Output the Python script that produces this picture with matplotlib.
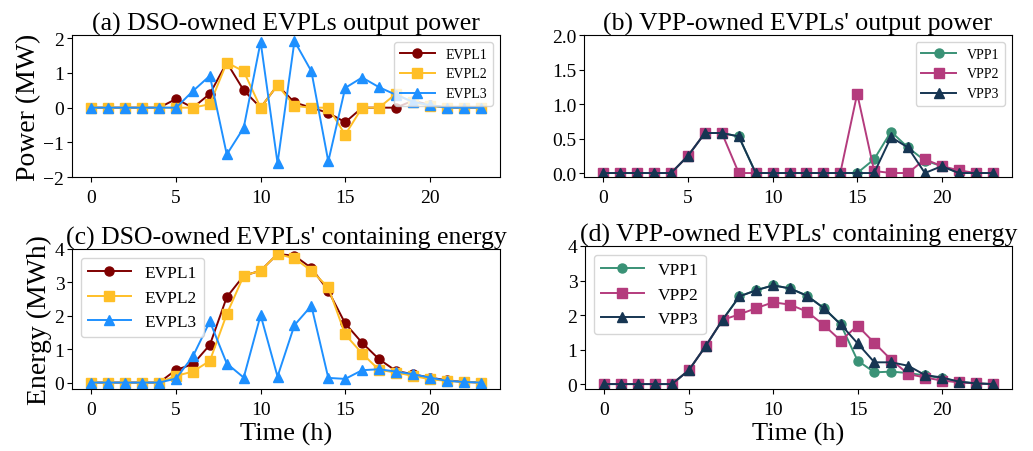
import numpy as np
import matplotlib as mpl
mpl.use('Agg')
import matplotlib.pyplot as plt

plt.rcParams['font.family'] = ['Liberation Serif', 'DejaVu Serif']
plt.rcParams['mathtext.fontset'] = 'stix'

hours = np.arange(24)

# DSO-owned parking lots: output power (MW)
evpl1_p = [0, 0, 0, 0, 0, 0.25, 0, 0.4, 1.3, 0.5, 0, 0.65, 0.15, 0, -0.15, -0.42,
           0, 0, 0, 0.2, 0.08, 0, 0, 0]
evpl2_p = [0, 0, 0, 0, 0, 0, 0, 0.1, 1.3, 1.05, 0, 0.65, 0.05, 0, 0, -0.78,
           0, 0, 0.4, 0.15, 0.05, 0, 0, 0]
evpl3_p = [0, 0, 0, 0, 0, 0, 0.48, 0.92, -1.35, -0.58, 1.9, -1.6, 1.92, 1.05, -1.55, 0.57,
           0.87, 0.59, 0.37, 0.17, 0.07, 0, 0, 0]

# VPP-owned parking lots: output power (MW)
vpp1_p = [0, 0, 0, 0, 0, 0.25, 0.58, 0.58, 0.53, 0, 0, 0, 0, 0, 0, 0,
          0.2, 0.6, 0.37, 0.18, 0.1, 0, 0, 0]
vpp2_p = [0, 0, 0, 0, 0, 0.25, 0.58, 0.58, 0, 0, 0, 0, 0, 0, 0, 1.15,
          0.03, 0, 0, 0.2, 0.1, 0.04, 0, 0]
vpp3_p = [0, 0, 0, 0, 0, 0.25, 0.58, 0.58, 0.53, 0, 0, 0, 0, 0, 0, 0,
          0, 0.52, 0.37, 0, 0.1, 0, 0, 0]

# DSO-owned parking lots: stored energy (MWh)
evpl1_e = [0, 0, 0, 0, 0, 0.38, 0.55, 1.13, 2.56, 3.2, 3.35, 3.85, 3.8, 3.43, 2.75, 1.77,
           1.19, 0.7, 0.35, 0.25, 0.15, 0.07, 0.02, 0]
evpl2_e = [0, 0, 0, 0, 0, 0.2, 0.33, 0.65, 2.05, 3.2, 3.35, 3.85, 3.72, 3.35, 2.85, 1.44,
           0.87, 0.38, 0.3, 0.2, 0.1, 0.05, 0.02, 0]
evpl3_e = [0, 0, 0, 0, 0, 0.12, 0.79, 1.83, 0.57, 0.15, 2.02, 0.18, 1.72, 2.3, 0.14, 0.11,
           0.37, 0.4, 0.33, 0.25, 0.15, 0.05, 0.02, 0]

# VPP-owned parking lots: stored energy (MWh)
vpp1_e = [0, 0, 0, 0, 0, 0.4, 1.1, 1.86, 2.54, 2.72, 2.86, 2.77, 2.56, 2.2, 1.73, 0.68,
          0.34, 0.36, 0.32, 0.25, 0.17, 0.07, 0.02, 0]
vpp2_e = [0, 0, 0, 0, 0, 0.4, 1.1, 1.86, 2.02, 2.2, 2.37, 2.3, 2.1, 1.71, 1.26, 1.69,
          1.19, 0.7, 0.29, 0.19, 0.1, 0.05, 0.02, 0]
vpp3_e = [0, 0, 0, 0, 0, 0.4, 1.1, 1.86, 2.54, 2.72, 2.86, 2.77, 2.56, 2.2, 1.73, 1.18,
          0.63, 0.63, 0.53, 0.26, 0.19, 0.07, 0.02, 0]

evpl_names = ['EVPL1', 'EVPL2', 'EVPL3']
vpp_names = ['VPP1', 'VPP2', 'VPP3']
evpl_colors = ['#7f0000', '#ffbf27', '#1e90ff']
vpp_colors = ['#3a9276', '#b43b7d', '#163552']
markers = ['o', 's', '^']

fig = plt.figure(figsize=(10.33, 4.52), dpi=100)
W, H = 1033, 452


def make_ax(l, t, r, b):
    return fig.add_axes([l / W, 1 - b / H, (r - l) / W, (b - t) / H])


ax_a = make_ax(72, 36, 500, 178)
ax_b = make_ax(584, 36, 1012, 178)
ax_c = make_ax(72, 250, 500, 390)
ax_d = make_ax(585, 247, 1012, 390)

panels = [
    (ax_a, [evpl1_p, evpl2_p, evpl3_p], evpl_names, evpl_colors, '(a) DSO-owned EVPLs output power'),
    (ax_b, [vpp1_p, vpp2_p, vpp3_p], vpp_names, vpp_colors, "(b) VPP-owned EVPLs' output power"),
    (ax_c, [evpl1_e, evpl2_e, evpl3_e], evpl_names, evpl_colors, "(c) DSO-owned EVPLs' containing energy"),
    (ax_d, [vpp1_e, vpp2_e, vpp3_e], vpp_names, vpp_colors, "(d) VPP-owned EVPLs' containing energy"),
]

for ax, series, names, colors, title in panels:
    for y, name, c, m in zip(series, names, colors, markers):
        ax.plot(hours, y, marker=m, color=c, label=name, markersize=6.5, linewidth=1.4)
    ax.set_title(title, fontsize=18.5, pad=4)
    ax.tick_params(labelsize=14)
    ax.tick_params(axis='x', pad=5)
    ax.tick_params(axis='y', pad=2)
    ax.set_xticks([0, 5, 10, 15, 20])

ax_a.set_ylim(bottom=-2)
ax_b.set_ylim(top=2)
ax_c.set_ylim(top=4)
ax_d.set_ylim(top=4)
ax_a.set_yticks([-2, -1, 0, 1, 2])
ax_b.set_yticks([0, 0.5, 1.0, 1.5, 2.0])
ax_c.set_yticks([0, 1, 2, 3, 4])
ax_d.set_yticks([0, 1, 2, 3, 4])

ax_a.legend(loc='upper right', fontsize=10, handlelength=2.5)
ax_b.legend(loc='upper right', fontsize=10, handlelength=2.5)
ax_c.legend(loc='upper left', fontsize=12.5, handlelength=2.5)
ax_d.legend(loc='upper left', fontsize=12.5, handlelength=2.5)

ax_a.set_ylabel('Power (MW)', fontsize=20, labelpad=2)
ax_c.set_ylabel('Energy (MWh)', fontsize=20, labelpad=2)
ax_c.set_xlabel('Time (h)', fontsize=19, labelpad=3)
ax_d.set_xlabel('Time (h)', fontsize=19, labelpad=3)

fig.savefig('out.png', dpi=100)
